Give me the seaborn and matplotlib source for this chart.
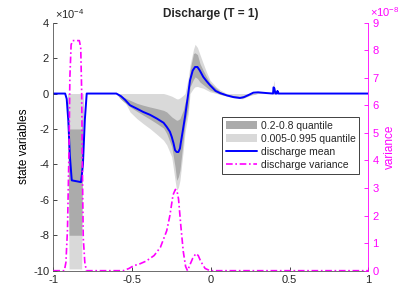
import matplotlib
matplotlib.use("Agg")
import matplotlib.pyplot as plt
import seaborn as sns
from matplotlib.patches import Patch
from matplotlib.lines import Line2D

# discharge mean (units of 1e-4)
mean_x = [-1, -0.925, -0.915, -0.905, -0.895, -0.883, -0.824, -0.812, -0.80, -0.788,
          -0.60, -0.57, -0.545, -0.513, -0.47, -0.429, -0.386, -0.343, -0.30, -0.28,
          -0.26, -0.248, -0.237, -0.227, -0.217, -0.206, -0.196, -0.191, -0.178, -0.164,
          -0.148, -0.132, -0.115, -0.10, -0.085, -0.07, -0.048, -0.027, -0.005, 0.03,
          0.058, 0.10, 0.143, 0.185, 0.21, 0.24, 0.27, 0.30, 0.35, 0.395,
          0.398, 0.403, 0.41, 0.42, 0.423, 0.427, 0.43, 1]
mean_y = [0, 0, -0.3, -1.5, -3.5, -4.9, -5.0, -4.0, -1.5, 0,
          0, -0.15, -0.35, -0.66, -0.85, -1.04, -1.2, -1.41, -1.65, -1.88,
          -2.15, -2.45, -2.8, -3.2, -3.3, -3.3, -3.1, -2.8, -2.1, -1.32,
          -0.3, 0.75, 1.3, 1.5, 1.5, 1.3, 0.94, 0.7, 0.47, 0.15,
          0.03, -0.1, -0.2, -0.25, -0.2, -0.08, 0.05, 0.07, 0.03, 0.0,
          0.35, 0.3, 0.0, 0.0, 0.15, 0.05, 0, 0]

# quantile bands (units of 1e-4)
band_x = [-1, -0.91, -0.9, -0.89, -0.83, -0.82, -0.81, -0.60, -0.576, -0.555,
          -0.513, -0.47, -0.429, -0.386, -0.343, -0.30, -0.28, -0.248, -0.227, -0.217,
          -0.206, -0.196, -0.175, -0.164, -0.143, -0.132, -0.11, -0.10, -0.085, -0.069,
          -0.048, -0.027, -0.005, 0.037, 0.06, 0.10, 0.15, 0.20, 0.25, 0.30,
          0.39, 0.40, 0.41, 1]
q995 = [0, 0, 0, 0, 0, 0, 0, 0, 0, 0,
        0, 0, 0, 0, 0, 0, -0.05, -0.15, -0.25, -0.3,
        -0.3, -0.25, -0.1, 0, 0.9, 1.6, 2.5, 2.78, 2.6, 2.2,
        1.69, 1.2, 0.75, 0.35, 0.2, 0.0, 0.0, 0.0, 0.0, 0.05,
        0, 0.75, 0, 0]
q005 = [0, 0, -9.9, -9.9, -9.9, -9.9, 0, 0, -0.15, -0.3,
        -1.04, -1.41, -1.7, -1.98, -2.3, -2.64, -2.9, -3.58, -4.9, -5.46,
        -5.3, -4.9, -3.2, -2.2, -1.13, 0, 0.3, 0.38, 0.4, 0.35,
        0.3, 0.2, 0.1, 0.0, -0.05, -0.15, -0.25, -0.3, -0.1, 0,
        0, -0.05, 0, 0]
q80 = [0, 0, -2, -2, -2, -2, 0, 0, -0.1, -0.2,
       -0.38, -0.55, -0.66, -0.76, -0.85, -0.95, -1.04, -1.32, -1.45, -1.51,
       -1.48, -1.41, -0.94, -0.5, 0, 1.32, 2.26, 2.3, 2.2, 1.69,
       1.3, 0.94, 0.6, 0.28, 0.1, -0.05, -0.12, -0.18, -0.05, 0.04,
       0, 0.3, 0, 0]
q20 = [0, 0, -8, -8, -8, -8, 0, 0, -0.28, -0.45,
       -0.75, -1.0, -1.22, -1.45, -1.69, -1.95, -2.26, -3.0, -4.14, -4.9,
       -4.7, -4.33, -2.64, -1.7, -0.75, 0.38, 0.8, 0.94, 0.85, 0.65,
       0.5, 0.35, 0.2, 0.05, -0.05, -0.12, -0.2, -0.26, -0.08, 0.02,
       0, 0, 0, 0]

# discharge variance (units of 1e-8)
var_x = [-1, -0.93, -0.92, -0.91, -0.9, -0.895, -0.887, -0.877, -0.835, -0.826,
         -0.82, -0.815, -0.81, -0.80, -0.79, -0.556, -0.52, -0.49, -0.45, -0.41,
         -0.36, -0.32, -0.28, -0.26, -0.24, -0.225, -0.215, -0.205, -0.19, -0.175,
         -0.16, -0.148, -0.13, -0.115, -0.095, -0.08, -0.068, -0.05, -0.036, -0.005, 1]
var_y = [0, 0, 0.3, 1.5, 4.5, 7.0, 8.2, 8.35, 8.35, 8.1,
         6.5, 3.5, 1.2, 0.3, 0, 0, 0.08, 0.18, 0.25, 0.35,
         0.55, 0.85, 1.45, 2.0, 2.75, 2.95, 2.9, 2.6, 1.6, 0.7,
         0.15, 0, 0.25, 0.45, 0.62, 0.55, 0.39, 0.2, 0.08, 0, 0]

x_ticks = [-1, -0.5, 0, 0.5, 1]
left_ticks = [4, 2, 0, -2, -4, -6, -8, -10]
right_ticks = list(range(0, 10))

sns.set_theme(style="white")
plt.rcParams["font.family"] = ["Liberation Sans", "DejaVu Sans"]
plt.rcParams["axes.unicode_minus"] = False
plt.rcParams["mathtext.fontset"] = "custom"
plt.rcParams["mathtext.rm"] = "Liberation Sans"
plt.rcParams["mathtext.default"] = "regular"

blue = "#0000ff"
magenta = "#ff00ff"
dark_band = "#ababab"
light_band = "#d9d9d9"
axis_gray = "#262626"
dashdot = (0, (4, 1.6, 1, 1.6))

fig = plt.figure(figsize=(4.07, 3.05), dpi=100)
ax = fig.add_axes([0.131, 0.1125, 0.774, 0.8131])

ax.fill_between(band_x, q005, q995, color=light_band, linewidth=0)
ax.fill_between(band_x, q20, q80, color=dark_band, linewidth=0)
sns.lineplot(x=mean_x, y=mean_y, color=blue, linewidth=1.4, ax=ax, sort=False)

ax.set_xlim(-1, 1)
ax.set_ylim(-10, 4)
ax.set_xticks(x_ticks)
ax.set_xticklabels([f"{t:g}" for t in x_ticks])
ax.set_yticks(left_ticks)
ax.set_ylabel("state variables", fontsize=8.5, color="black", labelpad=2)
ax.set_title("Discharge (T = 1)", fontsize=8.5, fontweight="bold", pad=4)
ax.tick_params(axis="both", direction="in", length=3, width=0.6, labelsize=8,
               colors=axis_gray, pad=3, left=True, bottom=True)
for side in ("top", "right"):
    ax.spines[side].set_visible(False)
for side in ("left", "bottom"):
    ax.spines[side].set_color("#555555")
    ax.spines[side].set_linewidth(0.6)
ax.text(0.004, 1.013, r"$\times10^{-4}$", transform=ax.transAxes, fontsize=8,
        ha="left", va="baseline", color=axis_gray)

ax2 = ax.twinx()
sns.lineplot(x=var_x, y=var_y, color=magenta, linewidth=1.2, linestyle=dashdot, ax=ax2, sort=False)
ax2.set_ylim(0, 9)
ax2.set_yticks(right_ticks)
ax2.set_ylabel("variance", fontsize=8.5, color=magenta, labelpad=4)
ax2.tick_params(axis="y", direction="in", length=3, width=0.6, labelsize=8,
                colors=magenta, pad=3, right=True)
for side in ("top", "left", "bottom"):
    ax2.spines[side].set_visible(False)
ax2.spines["right"].set_color(magenta)
ax2.spines["right"].set_linewidth(0.6)
ax2.text(1.005, 1.024, r"$\times10^{-8}$", transform=ax2.transAxes, fontsize=8,
         ha="left", va="baseline", color=magenta)

handles = [
    Patch(facecolor=dark_band, edgecolor="none", label="0.2-0.8 quantile"),
    Patch(facecolor=light_band, edgecolor="none", label="0.005-0.995 quantile"),
    Line2D([], [], color=blue, linewidth=1.4, label="discharge mean"),
    Line2D([], [], color=magenta, linewidth=1.2, linestyle=dashdot, label="discharge variance"),
]
leg = ax2.legend(handles=handles, loc="upper left", bbox_to_anchor=(0.537, 0.62),
                 fontsize=7.5, frameon=True, fancybox=False, framealpha=1,
                 edgecolor="#404040", borderpad=0.35, labelspacing=0.3,
                 handlelength=3.0, handletextpad=0.3, borderaxespad=0)
leg.get_frame().set_linewidth(0.7)

fig.savefig("out.png", dpi=100)
